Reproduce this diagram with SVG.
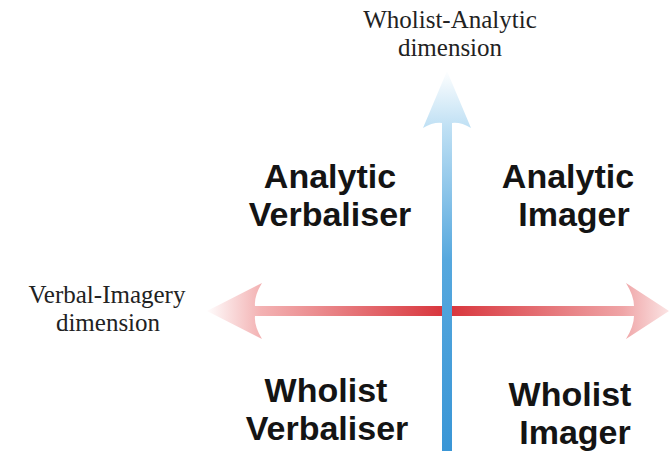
<svg xmlns="http://www.w3.org/2000/svg" width="669" height="451" viewBox="0 0 669 451">
  <style>
    .quad { font-family: "Liberation Sans", Arial, sans-serif; font-weight: bold; font-size: 34px; fill: #141414; text-anchor: middle; }
    .dim { font-family: "Liberation Serif", "Times New Roman", serif; font-size: 25px; fill: #222; text-anchor: middle; }
  </style>
  <defs>
    <linearGradient id="gH" gradientUnits="userSpaceOnUse" x1="205" y1="0" x2="669" y2="0">
      <stop offset="0" stop-color="#ffffff"/>
      <stop offset="0.12" stop-color="#f3b2b3"/>
      <stop offset="0.52" stop-color="#d8343b"/>
      <stop offset="0.9" stop-color="#efa4a6"/>
      <stop offset="1" stop-color="#fbe4e4"/>
    </linearGradient>
    <linearGradient id="gV" gradientUnits="userSpaceOnUse" x1="0" y1="70" x2="0" y2="451">
      <stop offset="0" stop-color="#ffffff"/>
      <stop offset="0.15" stop-color="#bfe0f4"/>
      <stop offset="0.5" stop-color="#56a8de"/>
      <stop offset="1" stop-color="#3a96d6"/>
    </linearGradient>
  </defs>
  <g id="connectors">
    <path id="verbal-imagery-axis" fill="url(#gH)" d="M207,311 L262,283 Q254,296 255,306 L634,306 Q634,296 626,283 L669,311 L626,339 Q634,326 634,316 L255,316 Q254,326 262,339 Z"/>
    <path id="wholist-analytic-axis" fill="url(#gV)" d="M447,71 L471,128 Q461,122 452,123 L452,451 L442,451 L442,123 Q433,122 423,128 Z"/>
  </g>
  <g id="label-wholist-analytic">
    <text class="dim" x="450" y="28">Wholist-Analytic</text>
    <text class="dim" x="450" y="56">dimension</text>
  </g>
  <g id="label-verbal-imagery">
    <text class="dim" x="107" y="303" font-size="26">Verbal-Imagery</text>
    <text class="dim" x="108" y="331" font-size="26">dimension</text>
  </g>
  <g id="analytic-verbaliser">
    <text class="quad" x="330" y="188">Analytic</text>
    <text class="quad" x="330" y="226">Verbaliser</text>
  </g>
  <g id="analytic-imager">
    <text class="quad" x="568" y="188">Analytic</text>
    <text class="quad" x="574" y="226">Imager</text>
  </g>
  <g id="wholist-verbaliser">
    <text class="quad" x="326" y="402">Wholist</text>
    <text class="quad" x="327" y="440">Verbaliser</text>
  </g>
  <g id="wholist-imager">
    <text class="quad" x="570" y="406">Wholist</text>
    <text class="quad" x="575" y="444">Imager</text>
  </g>
</svg>
